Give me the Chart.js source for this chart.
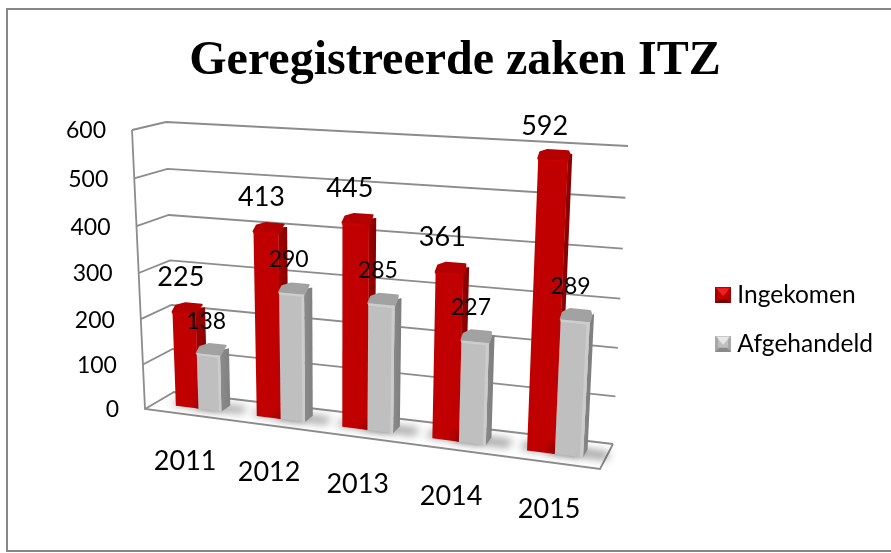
<!DOCTYPE html>
<html><head><meta charset="utf-8">
<style>html,body{margin:0;padding:0;background:#fff}canvas{display:block}</style>
<script src="https://cdn.jsdelivr.net/npm/chart.js@4"></script>
</head><body>
<canvas id="c" width="891" height="553"></canvas>
<script>
const categories = ["2011","2012","2013","2014","2015"];
const ingekomen = [225,413,445,361,592];
const afgehandeld = [138,290,285,227,289];
const seriesNames = ["Ingekomen","Afgehandeld"];
const titleText = "Geregistreerde zaken ITZ";

// view of the 3D box: screen corners (front/back, bottom/top, left/right)
const view = {
  fbl:[145,409], ftl:[132,130], bbl:[174,392], btl:[166,122],
  fbr:[600,469], ftr:[617,158], bbr:[613,444], btr:[628,146]
};
const depth = {front:.35, back:.68};
const warpU = .13, warpV = .05, barWarpV = .04;
const lerp=(a,b,t)=>[a[0]+(b[0]-a[0])*t,a[1]+(b[1]-a[1])*t];
function project(u,v,w){
  const uu=u-warpU*u*(1-u), vv=v-warpV*v*(1-v);
  const fb=lerp(view.fbl,view.fbr,uu), ft=lerp(view.ftl,view.ftr,uu),
        bb=lerp(view.bbl,view.bbr,uu), bt=lerp(view.btl,view.btr,uu);
  return lerp(lerp(fb,ft,vv),lerp(bb,bt,vv),w);
}
function poly(ctx,pts){ctx.beginPath();pts.forEach((p,i)=>i?ctx.lineTo(p[0],p[1]):ctx.moveTo(p[0],p[1]));}
function swatch(c1,c2,c3,c4){
  const s=document.createElement('canvas');s.width=s.height=16;const x=s.getContext('2d');
  x.fillStyle=c2;x.fillRect(0,0,16,16);
  const t=(pts,c)=>{x.fillStyle=c;poly(x,pts);x.closePath();x.fill();};
  t([[1,1],[15,1],[8,9]],c1);t([[0,0],[0,16],[3,13],[3,3]],c3);t([[16,0],[16,16],[13,13],[13,3]],c3);t([[0,16],[16,16],[12,12],[4,12]],c4);
  return s;
}
const palettes=[
 {front:'#C00000',edge:'#C00000',top:'#B40000',side:'#8A0000',sideLight:'#980000',bevel:'#C80000'},
 {front:'#BFBFBF',edge:'#CCCCCC',top:'#A2A2A2',side:'#808080',sideLight:'#8A8A8A',bevel:'#CDCDCD'}
];
const frame3d={
  id:'frame3d',
  afterLayout(chart){chart.legend.top+=43;chart.legend.bottom+=43;},
  beforeDraw(chart){
    const c=chart.ctx;c.save();c.fillStyle='#fff';c.fillRect(0,0,891,553);
    c.strokeStyle='#868686';c.lineWidth=2;
    poly(c,[[891,9],[7,9],[7,551],[891,551]]);c.stroke();c.restore();
  },
  beforeDatasetsDraw(chart){
    const c=chart.ctx,a=chart.chartArea,sy=chart.scales.y,sx=chart.scales.x;
    const V=val=>(a.bottom-sy.getPixelForValue(val))/a.height;
    c.save();
    c.strokeStyle='#8C8C8C';c.lineWidth=1.8;c.lineJoin='miter';
    // walls
    sy.ticks.forEach(t=>{
      const v=V(t.value);
      poly(c,[project(0,v,0),project(0,v,1),project(1,v,1)]);c.stroke();
    });
    poly(c,[project(0,1,0),project(0,0,0),project(1,0,0),project(1,0,1)]);c.stroke();
    // y tick labels
    c.fillStyle='#000';c.textBaseline='middle';c.textAlign='right';c.font='23px Lato';
    sy.ticks.forEach(t=>{
      const p=project(0,V(t.value),0);
      c.fillText(String(t.value),p[0]-26,p[1]+1);
    });
    // bars
    const U=x=>(x-a.left)/a.width;
    const B=x=>{const u=U(x);return u+.01*(1-u);};
    const metas=[chart.getDatasetMeta(0),chart.getDatasetMeta(1)];
    const base=V(0);
    categories.forEach((cat,j)=>{
      metas.forEach((m,i)=>{
        const el=m.data[j],pal=palettes[i];
        const u0=B(el.x-el.width/2),u1=B(el.x+el.width/2);
        const v0=V(chart.data.datasets[i].data[j]),v=v0-barWarpV*v0*(1-v0);
        const w0=depth.front,w1=depth.back,dv=.016;
        // floor shadow
        c.save();c.filter='blur(4px)';c.fillStyle='rgba(0,0,0,.42)';
        poly(c,[project(u0-.015,base,w0+.03),project(u1+.045,base,w0+.03),project(u1+.045,base,w1),project(u0-.015,base,w1)]);
        c.closePath();c.fill();c.restore();
        // side
        const sp=[project(u1,base,w0),project(u1,base,w1),project(u1,v-dv/2,w1),project(u1,v,w0+.12),project(u1,v-dv,w0)];
        const g=c.createLinearGradient(sp[0][0],0,sp[1][0],0);g.addColorStop(0,pal.sideLight);g.addColorStop(1,pal.side);
        c.fillStyle=g;poly(c,sp);c.closePath();c.fill();
        // top (chamfered, round-cornered)
        const tp=[project(u0,v-dv,w0),project(u1,v-dv,w0),project(u1,v,w0+.12),project(u1-.008,v,w1),project(u0+.008,v,w1),project(u0,v,w0+.12)];
        c.fillStyle=pal.top;c.strokeStyle=pal.top;c.lineWidth=2;c.lineJoin='round';
        poly(c,tp);c.closePath();c.fill();c.stroke();
        // front
        const fp=[project(u0,base,w0),project(u1,base,w0),project(u1,v-dv,w0),project(u0,v-dv,w0)];
        c.fillStyle=pal.front;poly(c,fp);c.closePath();c.fill();
        // bevels
        const du=.006;
        c.fillStyle=pal.bevel;
        poly(c,[project(u0,v-dv,w0),project(u1,v-dv,w0),project(u1,v-dv-.008,w0),project(u0,v-dv-.008,w0)]);c.closePath();c.fill();
        c.fillStyle=pal.edge;
        poly(c,[project(u1-du,base,w0),project(u1,base,w0),project(u1,v-dv,w0),project(u1-du,v-dv,w0)]);c.closePath();c.fill();
      });
    });
    // category labels
    c.fillStyle='#000';c.textAlign='center';c.font='27px Lato';
    categories.forEach((cat,j)=>{
      const p=project(U(sx.getPixelForValue(j)),0,0);
      c.fillText(cat,p[0],p[1]+47);
    });
    // value labels
    metas.forEach((m,i)=>{
      c.font=(i===0?27:23)+'px Lato';
      m.data.forEach((el,j)=>{
        const u=U(el.x);
        const p=project(u,V(chart.data.datasets[i].data[j]),.5);
        const dx=i===0?-3-8*u:-2-5*u, dy=i===0?-26:-24;
        c.fillText(String(chart.data.datasets[i].data[j]),p[0]+dx,p[1]+dy);
      });
    });
    c.restore();
    return false;
  }
};
new Chart(document.getElementById('c'),{
  type:'bar',
  data:{labels:categories,datasets:[
    {label:seriesNames[0],data:ingekomen,backgroundColor:'#C00000',pointStyle:swatch('#F02020','#C00000','#A80000','#7A0000'),categoryPercentage:.57,barPercentage:1},
    {label:seriesNames[1],data:afgehandeld,backgroundColor:'#BFBFBF',pointStyle:swatch('#E8E8E8','#BFBFBF','#A8A8A8','#8A8A8A'),categoryPercentage:.57,barPercentage:1}
  ]},
  options:{
    responsive:false,animation:false,
    layout:{padding:{left:27,right:8,top:0,bottom:0}},
    scales:{
      x:{ticks:{display:false},grid:{display:false},border:{display:false}},
      y:{min:0,max:600,ticks:{display:false,stepSize:100},grid:{display:false},border:{display:false}}
    },
    plugins:{
      title:{display:true,text:titleText,color:'#000',font:{family:'Liberation Serif',size:48,weight:'bold'},padding:{top:33,bottom:0}},
      legend:{position:'right',labels:{usePointStyle:true,boxWidth:4,color:'#000',font:{family:'Lato',size:24.5},padding:24}},
      tooltip:{enabled:false}
    }
  },
  plugins:[frame3d]
});
</script>
</body></html>
